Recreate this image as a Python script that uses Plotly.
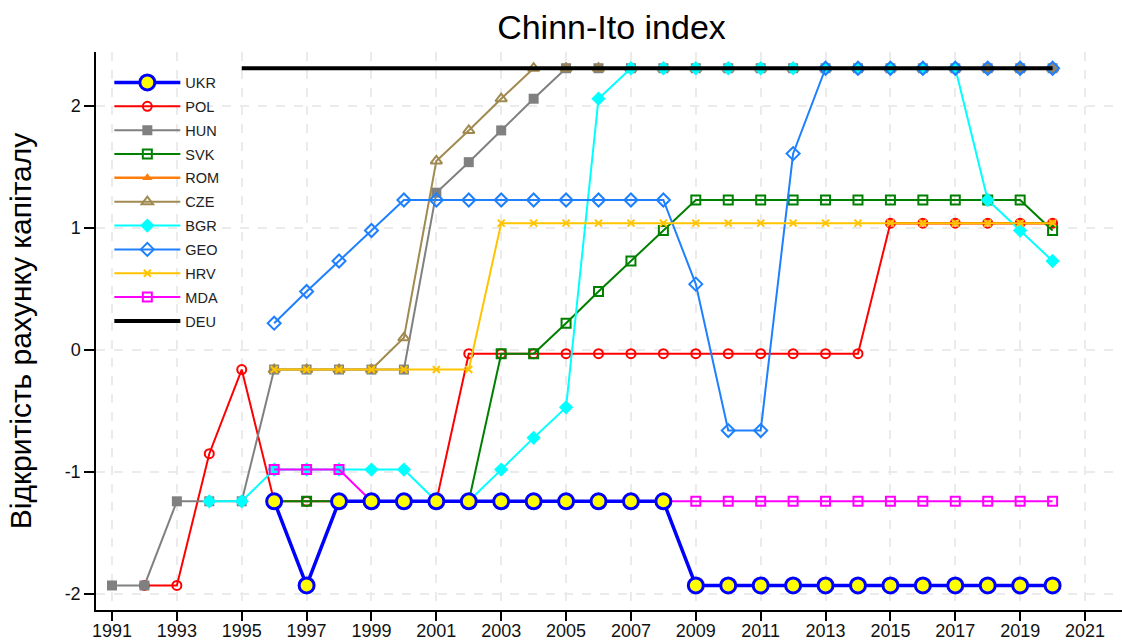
import plotly.graph_objects as go

# ---- data ----
years_ukr = list(range(1996, 2021))
ukr = [-1.24, -1.93] + [-1.24] * 11 + [-1.93] * 12

years_pol = list(range(1992, 2021))
pol = [-1.93, -1.93, -0.85, -0.16] + [-1.24] * 6 + [-0.03] * 13 + [1.04] * 6

years_hun = list(range(1991, 2021))
hun = [-1.93, -1.93, -1.24, -1.24, -1.24, -0.16, -0.16, -0.16, -0.16, -0.16,
       1.29, 1.54, 1.80, 2.06] + [2.31] * 16

years_svk = list(range(1996, 2021))
svk = [-1.24] * 7 + [-0.03, -0.03, 0.22, 0.48, 0.73, 0.98] + [1.23] * 11 + [0.98]

years_rom = list(range(2015, 2021))
rom = [1.04] * 6

years_cze = list(range(1996, 2021))
cze = [-0.16, -0.16, -0.16, -0.16, 0.10, 1.55, 1.80, 2.06] + [2.31] * 17

years_bgr = list(range(1994, 2021))
bgr = [-1.24, -1.24, -0.98, -0.98, -0.98, -0.98, -0.98, -1.24, -1.24,
       -0.98, -0.72, -0.47, 2.06] + [2.31] * 11 + [1.23, 0.98, 0.73]

years_geo = list(range(1996, 2021))
geo = [0.22, 0.48, 0.73, 0.98] + [1.23] * 9 + [0.54, -0.66, -0.66, 1.61] + [2.31] * 8

years_hrv = list(range(1996, 2021))
hrv = [-0.16] * 7 + [1.04] * 18

years_mda = list(range(1996, 2021))
mda = [-0.98, -0.98, -0.98] + [-1.24] * 22

years_deu = list(range(1995, 2021))
deu = [2.31] * 26

x_ticks = list(range(1991, 2022, 2))
y_ticks = [-2, -1, 0, 1, 2]
y_tick_labels = ["-2", "-1", "0", "1", "2"]

fig = go.Figure()

def add(name, x, y, color, width, symbol, size, rank, fill=None, mlw=2, mode="lines+markers"):
    marker = dict(symbol=symbol, size=size, color=fill if fill else color,
                  line=dict(color=color, width=mlw))
    fig.add_trace(go.Scatter(x=x, y=y, name=name, mode=mode,
                             line=dict(color=color, width=width),
                             marker=marker, legendrank=rank, legendgroup=name))

add("ROM", years_rom, rom, "#ff7f0e", 2.5, "triangle-up", 9, 5, mlw=0)
add("POL", years_pol, pol, "#ff0000", 2, "circle-open", 9, 2)
add("HUN", years_hun, hun, "#808080", 2, "square", 10, 3, mlw=0)
add("SVK", years_svk, svk, "#008000", 2, "square-open", 9, 4, mlw=2)
add("CZE", years_cze, cze, "#a08a50", 2, "triangle-up-open", 10, 6)
add("BGR", years_bgr, bgr, "#00ffff", 2, "diamond", 11, 7, mlw=0)
add("GEO", years_geo, geo, "#1e80ff", 2, "diamond-open", 10, 8)
add("HRV", years_hrv, hrv, "#ffc400", 2, "x-thin", 7, 9, mlw=2)
add("MDA", years_mda, mda, "#ff00ff", 2, "square-open", 9, 10)
add("UKR", years_ukr, ukr, "#0000ff", 3.5, "circle", 15, 1, fill="#ffff00", mlw=3)
fig.add_trace(go.Scatter(x=years_deu, y=deu, name="DEU", mode="lines",
                         line=dict(color="black", width=4), legendrank=11,
                         legendgroup="DEU"))

grid = dict(showgrid=True, gridcolor="#ebebeb", gridwidth=2, griddash="dash")
fig.update_layout(
    width=1122, height=641,
    paper_bgcolor="white", plot_bgcolor="white",
    margin=dict(l=96, r=0, t=52, b=31, autoexpand=False),
    font=dict(family="Liberation Sans, Arial, sans-serif", color="#111"),
    title=dict(text="Chinn-Ito index", x=0.545, xanchor="center",
               xref="container", yref="container", y=0.957,
               yanchor="middle", font=dict(size=34, color="black")),
    xaxis=dict(range=[1990.507, 2022.14], tickmode="array", tickvals=x_ticks,
               ticks="outside", ticklen=9, tickcolor="black", tickwidth=1.5,
               ticklabelstandoff=-5,
               showline=True, linecolor="black", linewidth=1.5, automargin=False,
               tickfont=dict(size=18, color="#111"), zeroline=False, **grid),
    yaxis=dict(range=[-2.131, 2.443], tickmode="array", tickvals=y_ticks,
               ticktext=y_tick_labels, automargin=False,
               ticks="outside", ticklen=10, tickcolor="black", tickwidth=1.5,
               showline=True, linecolor="black", linewidth=1.5,
               tickfont=dict(size=18, color="#111"), zeroline=False,
               title=dict(text="Відкритість рахунку капіталу",
                          font=dict(size=30, color="black"), standoff=24),
               **grid),
    legend=dict(x=0.013, y=0.974, xanchor="left", yanchor="top",
                bgcolor="rgba(255,255,255,0)", font=dict(size=14.5, color="#222"),
                tracegroupgap=2, itemwidth=66),
    showlegend=True,
)

fig.write_html("out.html", config={"displayModeBar": False},
               post_script="document.body.style.margin='0';document.body.style.overflow='hidden';")
